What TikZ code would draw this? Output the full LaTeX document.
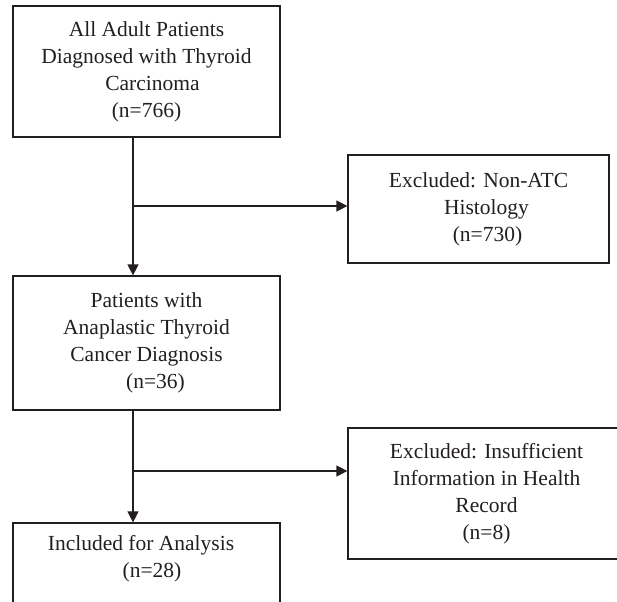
\documentclass[tikz,border=0pt]{standalone}
\usepackage{fontspec}
\setmainfont{Liberation Serif}
\usetikzlibrary{arrows.meta}
\definecolor{ink}{HTML}{231F20}
\tikzset{
  box/.style={draw=ink, line width=1.2pt, fill=white, text=ink, align=center, inner sep=0pt, font=\fontsize{21.5}{27}\selectfont},
  txt/.style={text=ink, align=center, inner sep=0pt, font=\fontsize{21.5}{27}\selectfont},
  ln/.style={draw=ink, line width=1.2pt},
  arr/.style={draw=ink, line width=1.2pt, -{Triangle[length=11pt,width=11pt]}}
}
\begin{document}
\begin{tikzpicture}[x=1pt,y=-1pt]
\clip (0,0) rectangle (617,601);
\fill[white] (0,0) rectangle (617,601);
\node[box, minimum width=267, minimum height=131] (all) at (146.5,71.5) {All Adult Patients\\Diagnosed with Thyroid\\\hspace*{12pt}Carcinoma\\\hspace*{0pt}(n=766)};
\node[box, minimum width=261, minimum height=108] (nonatc) at (478.5,209) {Excluded: Non-ATC\\\hspace*{16pt}Histology\\\hspace*{18pt}(n=730)};
\node[box, minimum width=267, minimum height=134] (atc) at (146.5,343) {Patients with\\Anaplastic Thyroid\\Cancer Diagnosis\\\hspace*{18pt}(n=36)};
\node[box, minimum width=277, minimum height=131] (insuf) at (486.5,493.5) {Excluded: Insufficient\\Information in Health\\Record\\(n=8)};
\node[box, minimum width=267, minimum height=100] (incl) at (146.5,573) {};
\node[txt] (incltxt) at (141,559) {Included for Analysis\\\hspace*{22pt}(n=28)};
\coordinate (j1) at (133,206);
\coordinate (j2) at (133,471);
\draw[ln] (all.south -| j1) -- (j1);
\draw[arr] (j1) -- (atc.north -| j1);
\draw[arr] (j1) -- (j1 -| nonatc.west);
\draw[ln] (atc.south -| j2) -- (j2);
\draw[arr] (j2) -- (incl.north -| j2);
\draw[arr] (j2) -- (j2 -| insuf.west);
\end{tikzpicture}
\end{document}
